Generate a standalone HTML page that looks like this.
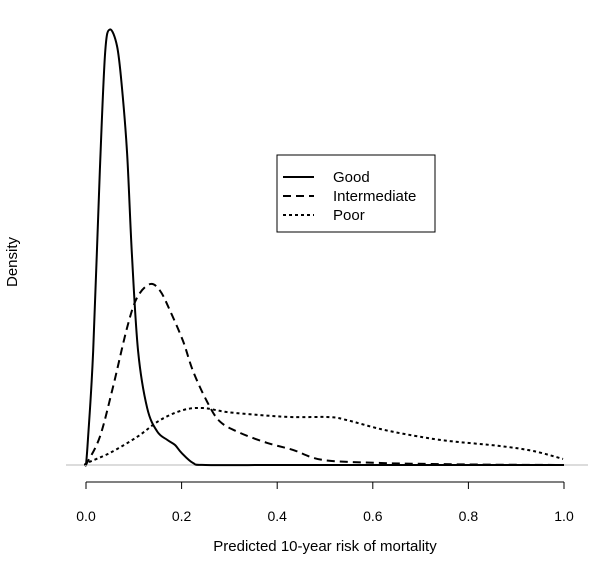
<!DOCTYPE html>
<html><head><meta charset="utf-8"><style>
body{margin:0;background:#fff;}
svg{display:block;font-family:"Liberation Sans",Arial,sans-serif;}
</style></head><body>
<svg id="chart" width="600" height="569" viewBox="0 0 600 569">
<line x1="66" y1="465" x2="588" y2="465" stroke="#d0d0d0" stroke-width="1.5"/>
<g id="xaxis"></g>
<text x="325" y="551" font-size="15" text-anchor="middle">Predicted 10-year risk of mortality</text>
<text transform="translate(17,262) rotate(-90)" font-size="15" text-anchor="middle">Density</text>
<g id="series"></g>
<g>
<rect x="277" y="155" width="158" height="77" fill="#fff" stroke="#000" stroke-width="1"/>
<g><line x1="283" y1="177" x2="314" y2="177" stroke="#000" stroke-width="2"/><text x="333" y="182" font-size="15">Good</text></g>
<g><line x1="283" y1="196" x2="314" y2="196" stroke="#000" stroke-width="2" stroke-dasharray="8,5"/><text x="333" y="201" font-size="15">Intermediate</text></g>
<g><line x1="283" y1="215" x2="314" y2="215" stroke="#000" stroke-width="2" stroke-dasharray="3,3"/><text x="333" y="220" font-size="15">Poor</text></g>
</g>
</svg>
<script>
const goodX=[0,0.004,0.015,0.029,0.04,0.05,0.065,0.075,0.086,0.096,0.109,0.128,0.149,0.17,0.186,0.2,0.224,0.25,0.4,0.6,0.8,1.0];
const goodY=[0,0.75,3.4,8.8,12.3,13,12.5,11.3,9.3,6.3,3.4,1.7,1.0,0.75,0.6,0.36,0.06,0,0,0,0,0];
const interX=[0,0.002,0.029,0.056,0.086,0.107,0.134,0.155,0.176,0.203,0.224,0.253,0.28,0.322,0.379,0.433,0.496,0.617,0.724,0.85,1.0];
const interY=[0,0.06,0.84,2.3,4.1,5.0,5.4,5.2,4.6,3.7,2.8,1.9,1.3,0.96,0.66,0.45,0.15,0.06,0.03,0.01,0];
const poorX=[0,0.002,0.05,0.107,0.155,0.203,0.245,0.295,0.364,0.433,0.51,0.546,0.617,0.688,0.757,0.864,0.935,0.998];
const poorY=[0,0.06,0.36,0.84,1.34,1.64,1.7,1.58,1.49,1.43,1.43,1.34,1.07,0.87,0.72,0.57,0.42,0.18];
const ticks=[0,0.2,0.4,0.6,0.8,1.0];
const tickLabels=["0.0","0.2","0.4","0.6","0.8","1.0"];
const NS="http://www.w3.org/2000/svg";
function sx(v){return 86+v*478;}
function sy(v){return 465-v*33.5;}
function pathFor(xs,ys){
  const p=xs.map((x,i)=>[sx(x),sy(ys[i])]);
  let d="M"+p[0][0]+","+p[0][1];
  for(let i=0;i<p.length-1;i++){
    const p0=p[Math.max(0,i-1)],p1=p[i],p2=p[i+1],p3=p[Math.min(p.length-1,i+2)];
    const c1x=p1[0]+(p2[0]-p0[0])/6,c1y=p1[1]+(p2[1]-p0[1])/6;
    const c2x=p2[0]-(p3[0]-p1[0])/6,c2y=p2[1]-(p3[1]-p1[1])/6;
    d+=" C"+c1x+","+c1y+" "+c2x+","+c2y+" "+p2[0]+","+p2[1];
  }
  return d;
}
const g=document.getElementById('series');
[[goodX,goodY,null,'good-density-line'],[interX,interY,'8,5','intermediate-density-line'],[poorX,poorY,'3,3','poor-density-line']].forEach(s=>{
  const el=document.createElementNS(NS,'path');
  el.setAttribute('d',pathFor(s[0],s[1]));
  el.setAttribute('fill','none');el.setAttribute('stroke','#000');el.setAttribute('stroke-width','2');
  if(s[2])el.setAttribute('stroke-dasharray',s[2]);
  
  
  g.appendChild(el);
});
const ax=document.getElementById('xaxis');
const al=document.createElementNS(NS,'line');
al.setAttribute('x1',sx(0));al.setAttribute('x2',sx(1));al.setAttribute('y1',482);al.setAttribute('y2',482);
al.setAttribute('stroke','#000');al.setAttribute('stroke-width','1');


ax.appendChild(al);
ticks.forEach((t,i)=>{
  const tl=document.createElementNS(NS,'line');
  tl.setAttribute('x1',sx(t));tl.setAttribute('x2',sx(t));tl.setAttribute('y1',482);tl.setAttribute('y2',489);
  tl.setAttribute('stroke','#000');
  
  
  ax.appendChild(tl);
  const tx=document.createElementNS(NS,'text');
  tx.setAttribute('x',sx(t));tx.setAttribute('y',521);tx.setAttribute('font-size','14');tx.setAttribute('text-anchor','middle');
  tx.textContent=tickLabels[i];
  
  
  ax.appendChild(tx);
});
</script>
</body></html>
